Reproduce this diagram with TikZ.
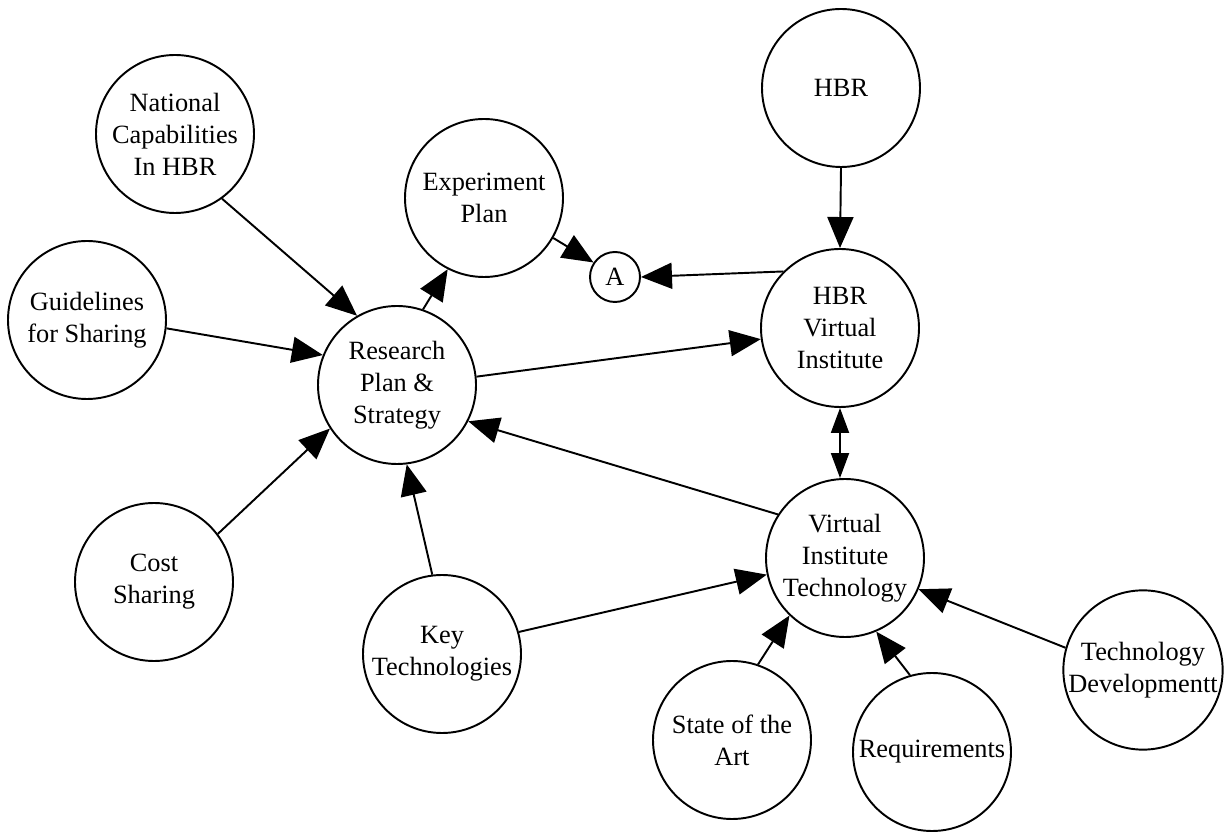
\documentclass[tikz,border=0pt]{standalone}
\usepackage{fontspec}
\setmainfont{Liberation Serif}
\usetikzlibrary{arrows.meta}

\begin{document}
\begin{tikzpicture}[
  bubble/.style={draw, circle, line width=1.1pt, minimum size=3.16cm, inner sep=0pt, align=center, font=\fontsize{15}{18.2}\selectfont},
  arr/.style={line width=1.1pt, -{Triangle[length=0.62cm,width=0.52cm]}},
  twoway/.style={line width=1.1pt, {Triangle[length=0.5cm,width=0.36cm]}-{Triangle[length=0.5cm,width=0.36cm]}}]
  \useasboundingbox (0,0) rectangle (24.56,-16.64);
  \node[bubble] (national) at (3.5,-2.68) {National\\Capabilities\\In HBR};
  \node[bubble] (guidelines) at (1.74,-6.4) {Guidelines\\for Sharing};
  \node[bubble] (cost) at (3.08,-11.64) {Cost\\Sharing};
  \node[bubble] (research) at (7.94,-7.7) {Research\\Plan \&\\Strategy};
  \node[bubble] (experiment) at (9.68,-3.96) {Experiment\\Plan};
  \node[bubble, minimum size=1cm] (a) at (12.3,-5.54) {A};
  \node[bubble] (hbr) at (16.82,-1.76) {HBR};
  \node[bubble] (hbrvi) at (16.8,-6.56) {HBR\\Virtual\\Institute};
  \node[bubble] (vit) at (16.9,-11.16) {Virtual\\Institute\\Technology};
  \node[bubble] (keytech) at (8.84,-13.08) {Key\\Technologies};
  \node[bubble] (state) at (14.64,-14.8) {State of the\\Art};
  \node[bubble] (req) at (18.64,-15.04) {Requirements};
  \node[bubble] (techdev) at (22.86,-13.4) {Technology\\Developmentt};
  % into the research plan
  \draw[arr] (national.-54) -- (research.120);
  \draw[arr] (guidelines.-6) -- (research.158);
  \draw[arr] (cost.37) -- (research.213);
  \draw[arr] (keytech.97) -- (research.-83);
  \draw[arr] (vit.147) -- (research.-27);
  % out of the research plan
  \draw[arr] (research.71) -- (experiment.243);
  \draw[arr] (research.6) -- (hbrvi.188);
  \draw[arr] (experiment.-30) -- (a.146);
  \draw[arr] (hbrvi.135) -- (a.east);
  \draw[arr] (hbr.south) -- (hbrvi.north);
  \draw[twoway] (hbrvi.south) -- (hbrvi.south |- vit.north);
  % into the technology
  \draw[arr] (keytech.16) -- (vit.192);
  \draw[arr] (state.71) -- (vit.226);
  \draw[arr] (req.106) -- (vit.-67);
  \draw[arr] (techdev.164) -- (vit.-23);
\end{tikzpicture}
\end{document}
